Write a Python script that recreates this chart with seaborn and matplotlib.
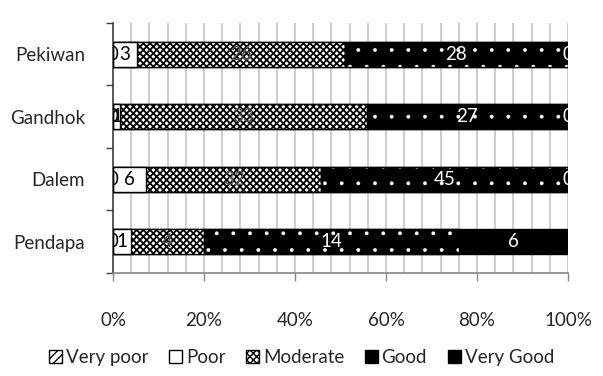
import matplotlib
matplotlib.use("Agg")
import matplotlib.pyplot as plt
from matplotlib.patches import Patch
from matplotlib.ticker import FixedLocator, MultipleLocator, PercentFormatter
import numpy as np
import pandas as pd
import seaborn as sns

# Condition ratings counted for each building of the complex
buildings = ["Pekiwan", "Gandhok", "Dalem", "Pendapa"]
levels = ["Very poor", "Poor", "Moderate", "Good", "Very Good"]
very_poor = [0, 0, 0, 0]
poor = [3, 1, 6, 1]
moderate = [26, 33, 32, 4]
good = [28, 27, 45, 14]
very_good = [0, 0, 0, 6]
x_ticks = [0, 20, 40, 60, 80, 100]

sns.set_style("white")
plt.rcParams["font.family"] = ["Lato", "DejaVu Sans"]
FS = 13.5
plt.rcParams["font.size"] = FS

counts = pd.DataFrame(
    {"Very poor": very_poor, "Poor": poor, "Moderate": moderate,
     "Good": good, "Very Good": very_good},
    index=buildings,
)
share = counts.div(counts.sum(axis=1), axis=0) * 100
ends = share.cumsum(axis=1)
starts = ends - share

# fill, edge/hatch colour, hatch, hatch line width, label colour
styles = {
    "Very poor": dict(fc="white", ec="black", hatch="////", hlw=1.0, tc="black"),
    "Poor": dict(fc="white", ec="black", hatch=None, hlw=1.0, tc="black"),
    "Moderate": dict(fc="white", ec="black", hatch="xxxxx", hlw=1.3, tc="#555555"),
    "Good": dict(fc="black", ec="white", hatch=".", hlw=0.3, tc="white"),
    "Very Good": dict(fc="black", ec="black", hatch=None, hlw=1.0, tc="white"),
}

fig = plt.figure(figsize=(6.03, 3.76), dpi=100)
ax = fig.add_axes([0.1874, 0.274, 0.7546, 0.665])

# stacked bars: each level drawn from 0 to its cumulative end, last level first
for lev in reversed(levels):
    st = styles[lev]
    plt.rcParams["hatch.linewidth"] = st["hlw"]
    frame = pd.DataFrame({"building": buildings, "pct": ends[lev].values})
    sns.barplot(
        data=frame, y="building", x="pct", order=buildings, orient="h",
        width=0.4, facecolor=st["fc"], edgecolor=st["ec"], hatch=st["hatch"],
        linewidth=(0 if lev == "Good" else 1.0), ax=ax, zorder=3,
    )

# outline around the dotted segments
for i, b in enumerate(buildings):
    ax.barh(i, share.loc[b, "Good"], left=starts.loc[b, "Good"], height=0.4,
            fill=False, edgecolor="black", linewidth=1.0, zorder=3.5)

# value labels in the middle of each segment
for i, b in enumerate(buildings):
    for lev in levels:
        cx = starts.loc[b, lev] + share.loc[b, lev] / 2
        ax.text(cx, i, f"{counts.loc[b, lev]}", ha="center", va="center",
                color=styles[lev]["tc"], fontsize=FS, zorder=5, clip_on=True)

ax.set_xlim(0, 100)
ax.set_ylim(3.5, -0.5)
ax.set_xlabel("")
ax.set_ylabel("")

ax.xaxis.set_major_locator(FixedLocator(x_ticks))
ax.xaxis.set_minor_locator(MultipleLocator(4))
ax.xaxis.set_major_formatter(PercentFormatter(decimals=0))
ax.grid(which="both", axis="x", color="#bfbfbf", linewidth=1.1, zorder=0)
ax.set_axisbelow(True)
ax.tick_params(axis="x", which="major", bottom=True, length=6, width=1,
               color="#868686", pad=22, labelsize=FS)
ax.tick_params(axis="x", which="minor", bottom=False)

ax.set_yticks(range(len(buildings)))
ax.set_yticklabels(buildings)
ax.yaxis.set_minor_locator(FixedLocator(np.arange(-0.5, len(buildings), 1.0)))
ax.tick_params(axis="y", which="major", left=False, length=0, pad=20, labelsize=FS)
ax.tick_params(axis="y", which="minor", left=True, length=5, width=1, color="#404040")

for side in ("top", "right"):
    ax.spines[side].set_visible(False)
ax.spines["bottom"].set_color("#868686")
ax.spines["bottom"].set_linewidth(1.2)
ax.spines["left"].set_color("#404040")
ax.spines["left"].set_linewidth(1.2)

plt.rcParams["hatch.linewidth"] = 1.0
handles = []
for lev in levels:
    st = styles[lev]
    if lev == "Good":
        handles.append(Patch(facecolor="black", edgecolor="black", label=lev))
    else:
        handles.append(Patch(facecolor=st["fc"], edgecolor="black",
                             hatch=st["hatch"], label=lev))
fig.legend(handles=handles, loc="center", bbox_to_anchor=(0.5, 0.048), ncol=5,
           frameon=False, fontsize=FS, handlelength=0.7, handleheight=0.7,
           handletextpad=0.2, columnspacing=1.1)

fig.savefig("out.png", dpi=100)
